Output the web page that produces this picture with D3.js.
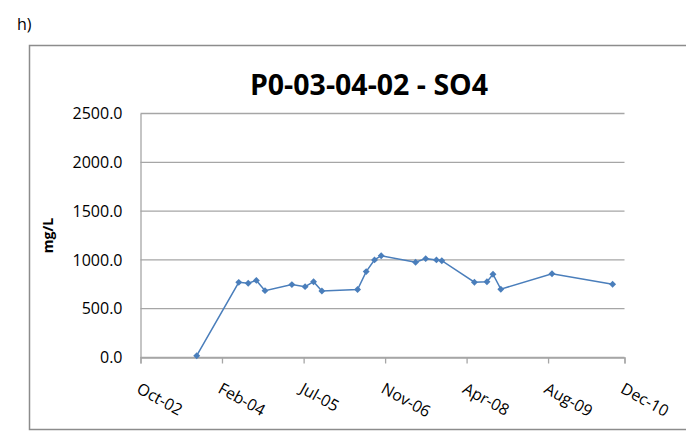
<!DOCTYPE html>
<html>
<head>
<meta charset="utf-8">
<script src="https://cdn.jsdelivr.net/npm/d3@7"></script>
<style>
  body { margin: 0; background: #fff; }
  text { font-family: 'Open Sans', 'Noto Sans', sans-serif; fill: #000; }
</style>
</head>
<body>
<div id="chart"></div>
<script>
// sample dates and SO4 values (mg/L)
var sampleDates = [
  '2003-09-25', '2004-06-09', '2004-08-06', '2004-09-25', '2004-11-17',
  '2005-05-01', '2005-07-21', '2005-09-11', '2005-11-01', '2006-06-08',
  '2006-07-31', '2006-09-20', '2006-10-31', '2007-05-30', '2007-07-31',
  '2007-10-05', '2007-11-07', '2008-05-25', '2008-08-10', '2008-09-16',
  '2008-11-03', '2009-09-13', '2010-09-20'
];
var so4Values = [
  18, 770, 760, 790, 685,
  747, 726, 777, 682, 696,
  880, 1000, 1043, 976, 1013,
  1000, 992, 771, 777, 853,
  700, 859, 751
];

// axis ticks (Excel date axis, 500 day major unit)
var xTickDates = ['2002-10-15', '2004-02-27', '2005-07-12', '2006-11-24', '2008-04-07', '2009-08-20', '2010-12-02'];
var yTicks = [0, 500, 1000, 1500, 2000, 2500];

var chartTitle = 'P0-03-04-02 - SO4';
var yTitle = 'mg/L';
var panelLabel = 'h)';

var width = 686,
  height = 434;

var parse = d3.timeParse('%Y-%m-%d');
var data = sampleDates.map(function (d, i) {
  return { date: parse(d), value: so4Values[i] };
});

var svg = d3
  .select('#chart')
  .append('svg')
  .attr('width', width)
  .attr('height', height);

svg
  .append('text')
  .attr('x', 17)
  .attr('y', 30)
  .style('font-size', '16px')
  .text(panelLabel);

// chart frame (runs off the right edge in the original)
svg
  .append('rect')
  .attr('x', 29.5)
  .attr('y', 45.5)
  .attr('width', 700)
  .attr('height', 384)
  .attr('fill', 'none')
  .attr('stroke', '#8c8c8c')
  .attr('stroke-width', 1.5);

svg
  .append('text')
  .attr('x', 369)
  .attr('y', 95)
  .attr('text-anchor', 'middle')
  .style('font-size', '28.5px')
  .style('font-weight', 'bold')
  .text(chartTitle);

var x = d3
  .scaleTime()
  .domain([parse(xTickDates[0]), parse(xTickDates[xTickDates.length - 1])])
  .range([140.5, 624.5]);

var y = d3.scaleLinear().domain([0, 2500]).range([357.5, 113.5]);

// gridlines
svg
  .append('g')
  .selectAll('line')
  .data(yTicks)
  .enter()
  .append('line')
  .attr('x1', 140.5)
  .attr('x2', 624.5)
  .attr('y1', (d) => y(d))
  .attr('y2', (d) => y(d))
  .attr('stroke', '#a6a6a6')
  .attr('stroke-width', 1.3);

// y axis
var yAxis = svg
  .append('g')
  .attr('transform', 'translate(140.5,0)')
  .call(
    d3
      .axisLeft(y)
      .tickValues(yTicks)
      .tickSize(0)
      .tickPadding(18)
      .tickFormat(d3.format('.1f'))
  );
yAxis.select('.domain').attr('stroke', '#a6a6a6').attr('stroke-width', 1.3);
yAxis.selectAll('text').style('font-size', '16px').style('font-family', null);

svg
  .append('text')
  .attr('transform', 'translate(53,' + (y(1250)) + ') rotate(-90)')
  .attr('text-anchor', 'middle')
  .style('font-size', '14px')
  .style('font-weight', 'bold')
  .text(yTitle);

// x axis
var xAxis = svg
  .append('g')
  .attr('transform', 'translate(0,' + y(0) + ')')
  .call(
    d3
      .axisBottom(x)
      .tickValues(xTickDates.map(parse))
      .tickSize(6)
      .tickFormat(() => '')
  );
xAxis.select('.domain').attr('stroke', '#a6a6a6').attr('stroke-width', 1.3);
xAxis.selectAll('.tick line').attr('stroke', '#a6a6a6').attr('stroke-width', 1.3);

svg
  .append('g')
  .selectAll('text')
  .data(xTickDates)
  .enter()
  .append('text')
  .attr('transform', (d) => 'translate(' + (x(parse(d)) - 5) + ',392) rotate(29)')
  .style('font-size', '16px')
  .text((d) => d3.timeFormat('%b-%y')(parse(d)));

// series
var blue = '#4a7ebb';
svg
  .append('path')
  .datum(data)
  .attr('fill', 'none')
  .attr('stroke', blue)
  .attr('stroke-width', 1.5)
  .attr(
    'd',
    d3
      .line()
      .x((d) => x(d.date))
      .y((d) => y(d.value))
  );

svg
  .append('g')
  .selectAll('path')
  .data(data)
  .enter()
  .append('path')
  .attr('transform', (d) => 'translate(' + x(d.date) + ',' + y(d.value) + ') rotate(45)')
  .attr('d', d3.symbol().type(d3.symbolSquare).size(24))
  .attr('fill', blue);
</script>
</body>
</html>
